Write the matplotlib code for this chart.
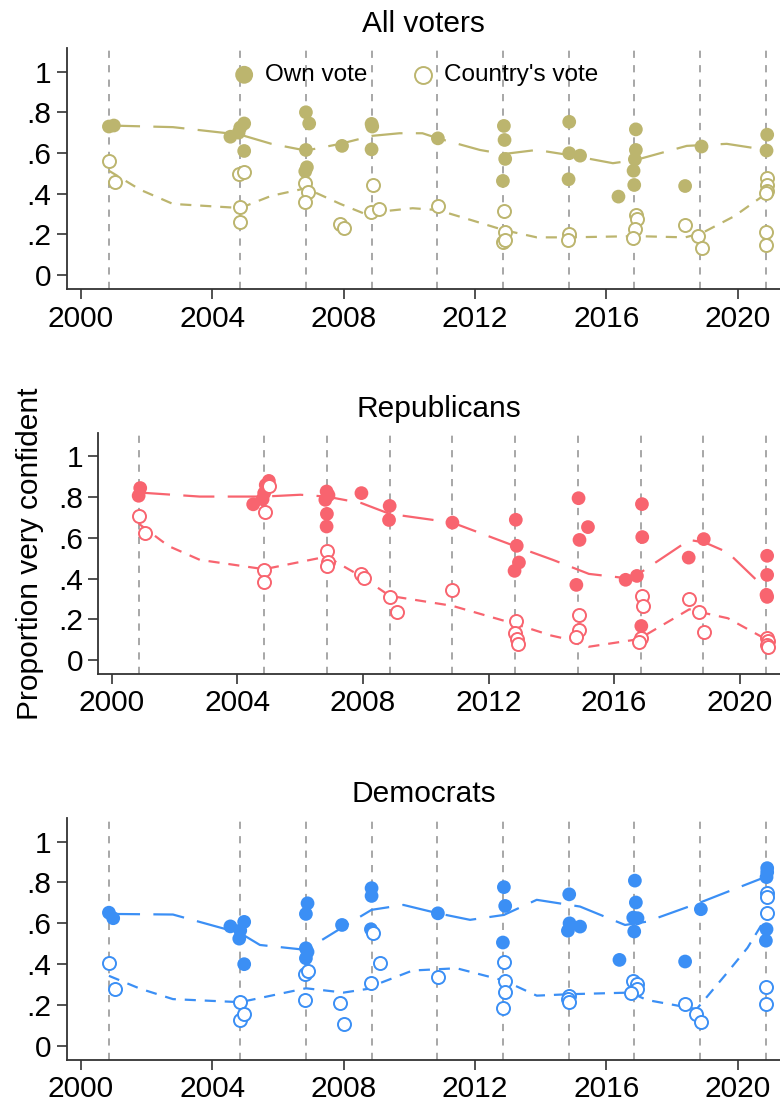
import numpy as np
import matplotlib.pyplot as plt

plt.rcParams.update({"font.family": ["Liberation Sans", "DejaVu Sans"], "font.size": 21.5})

elections = [2000.85, 2004.85, 2006.85, 2008.85, 2010.85, 2012.85,
             2014.85, 2016.85, 2018.85, 2020.85]

# ---- All voters ----
all_own_x = [2000.85, 2001.0, 2004.55, 2004.8, 2004.85, 2004.97, 2004.97,
             2006.85, 2006.95, 2006.85, 2006.88, 2006.83, 2007.95,
             2008.85, 2008.87, 2008.85, 2010.87, 2012.88, 2012.9, 2012.92, 2012.85,
             2014.87, 2014.87, 2014.85, 2015.2, 2016.9, 2016.9, 2016.87, 2016.83,
             2016.85, 2016.37, 2018.4, 2018.9, 2020.9, 2020.88]
all_own_y = [0.73, 0.735, 0.68, 0.70, 0.725, 0.745, 0.61,
             0.80, 0.745, 0.615, 0.53, 0.51, 0.635,
             0.743, 0.73, 0.618, 0.672, 0.733, 0.664, 0.571, 0.463,
             0.753, 0.599, 0.471, 0.587, 0.716, 0.615, 0.569, 0.513,
             0.443, 0.386, 0.438, 0.632, 0.69, 0.612]
all_cty_x = [2000.84, 2001.04, 2004.8, 2004.95, 2004.85, 2004.85,
             2006.83, 2006.9, 2006.83, 2007.9, 2008.0, 2008.88, 2008.83, 2009.09,
             2010.87, 2012.88, 2012.9, 2012.85, 2012.92, 2014.87, 2014.83,
             2016.9, 2016.92, 2016.88, 2016.82, 2018.4, 2018.8, 2018.9,
             2020.9, 2020.88, 2020.9, 2020.87, 2020.86, 2020.86]
all_cty_y = [0.563, 0.46, 0.495, 0.505, 0.333, 0.263,
             0.455, 0.407, 0.361, 0.252, 0.231, 0.443, 0.312, 0.324,
             0.34, 0.316, 0.211, 0.162, 0.173, 0.201, 0.173,
             0.296, 0.275, 0.226, 0.182, 0.247, 0.193, 0.133,
             0.476, 0.443, 0.415, 0.402, 0.214, 0.149]
all_own_fit_x = [2000.85, 2002.8, 2004.85, 2005.8, 2006.85, 2007.9, 2008.85, 2009.7,
                 2010.4, 2010.87, 2012.15, 2012.87, 2013.88, 2014.87, 2016.2,
                 2016.9, 2018.45, 2019.67, 2020.88]
all_own_fit_y = [0.735, 0.727, 0.69, 0.645, 0.612, 0.645, 0.684, 0.697,
                 0.697, 0.672, 0.615, 0.595, 0.615, 0.59, 0.55,
                 0.566, 0.635, 0.645, 0.615]
all_cty_fit_x = [2000.84, 2001.8, 2002.8, 2004.85, 2005.8, 2006.85, 2007.9, 2008.85,
                 2009.1, 2010.1, 2010.87, 2011.9, 2012.87, 2013.88, 2014.87,
                 2016.9, 2018.4, 2018.9, 2019.9, 2020.88]
all_cty_fit_y = [0.514, 0.42, 0.35, 0.33, 0.39, 0.427, 0.35, 0.288,
                 0.312, 0.329, 0.32, 0.27, 0.222, 0.186, 0.186,
                 0.192, 0.186, 0.206, 0.29, 0.402]

# ---- Republicans ----
rep_own_x = [2000.85, 2000.9, 2004.5, 2004.8, 2004.85, 2004.9, 2005.0,
             2006.84, 2006.9, 2006.8, 2006.85, 2006.84, 2007.95,
             2008.85, 2008.83, 2010.85, 2012.87, 2012.9, 2012.97, 2012.83,
             2014.87, 2015.17, 2014.9, 2014.8, 2016.37, 2016.73, 2016.89,
             2016.9, 2016.87, 2018.38, 2018.86, 2020.88, 2020.88, 2020.86, 2020.88]
rep_own_y = [0.807, 0.845, 0.765, 0.79, 0.82, 0.86, 0.88,
             0.828, 0.81, 0.787, 0.718, 0.656, 0.82,
             0.757, 0.688, 0.675, 0.689, 0.561, 0.479, 0.438,
             0.795, 0.653, 0.59, 0.369, 0.394, 0.413, 0.766,
             0.604, 0.167, 0.503, 0.594, 0.512, 0.418, 0.32, 0.31]
rep_cty_x = [2000.86, 2001.05, 2004.85, 2004.85, 2005.0, 2004.88,
             2006.85, 2006.9, 2006.85, 2007.95, 2008.02, 2008.85, 2009.07,
             2010.85, 2012.87, 2012.85, 2012.9, 2012.93, 2014.87, 2014.88, 2014.8,
             2016.9, 2016.92, 2016.85, 2016.8, 2018.38, 2018.7, 2018.86,
             2020.86, 2020.9, 2020.86, 2020.9]
rep_cty_y = [0.708, 0.623, 0.443, 0.385, 0.856, 0.725,
             0.536, 0.48, 0.462, 0.421, 0.405, 0.311, 0.236,
             0.344, 0.192, 0.134, 0.102, 0.077, 0.221, 0.148, 0.115,
             0.315, 0.266, 0.11, 0.09, 0.298, 0.234, 0.139,
             0.107, 0.095, 0.074, 0.062]
rep_own_fit_x = [2000.86, 2002.8, 2004.85, 2006.0, 2006.84, 2007.95, 2008.85,
                 2010.85, 2012.87, 2014.05, 2015.2, 2016.39, 2016.89,
                 2018.4, 2018.9, 2019.63, 2020.89]
rep_own_fit_y = [0.823, 0.803, 0.803, 0.812, 0.803, 0.771, 0.718,
                 0.675, 0.558, 0.492, 0.423, 0.402, 0.434,
                 0.59, 0.577, 0.528, 0.341]
rep_cty_fit_x = [2000.86, 2001.8, 2002.8, 2004.85, 2006.84, 2007.95, 2008.85,
                 2010.85, 2012.87, 2014.0, 2014.87, 2015.2, 2016.78,
                 2018.4, 2018.9, 2019.63, 2020.89]
rep_cty_fit_y = [0.669, 0.56, 0.492, 0.446, 0.508, 0.41, 0.315,
                 0.266, 0.176, 0.12, 0.09, 0.065, 0.102,
                 0.249, 0.23, 0.205, 0.098]

# ---- Democrats ----
dem_own_x = [2000.85, 2000.98, 2004.55, 2004.85, 2004.82, 2004.97, 2004.97,
             2006.9, 2006.85, 2006.85, 2006.9, 2006.85, 2007.95,
             2008.85, 2008.85, 2008.83, 2010.87, 2012.88, 2012.92, 2012.85,
             2014.87, 2014.88, 2015.2, 2014.83, 2016.4, 2016.87, 2016.9,
             2016.82, 2016.95, 2016.85, 2018.4, 2018.88, 2020.9, 2020.9,
             2020.88, 2020.88, 2020.86]
dem_own_y = [0.652, 0.625, 0.585, 0.565, 0.525, 0.607, 0.40,
             0.698, 0.646, 0.478, 0.46, 0.429, 0.592,
             0.772, 0.734, 0.571, 0.649, 0.777, 0.685, 0.506,
             0.742, 0.60, 0.584, 0.564, 0.421, 0.809, 0.702,
             0.628, 0.625, 0.56, 0.413, 0.669, 0.87, 0.85,
             0.826, 0.571, 0.515]
dem_cty_x = [2000.85, 2001.04, 2004.85, 2004.83, 2004.97,
             2006.83, 2006.9, 2006.83, 2007.9, 2008.0, 2008.88, 2008.83, 2009.1,
             2010.87, 2012.88, 2012.9, 2012.92, 2012.85, 2014.87, 2014.82, 2014.87,
             2016.82, 2016.92, 2016.93, 2016.75, 2018.4, 2018.73, 2018.87,
             2020.9, 2020.9, 2020.9, 2020.86, 2020.86]
dem_cty_y = [0.405, 0.279, 0.217, 0.127, 0.155,
             0.352, 0.365, 0.225, 0.209, 0.108, 0.552, 0.31, 0.405,
             0.336, 0.41, 0.32, 0.266, 0.187, 0.246, 0.23, 0.214,
             0.32, 0.305, 0.279, 0.261, 0.206, 0.157, 0.119,
             0.747, 0.731, 0.649, 0.287, 0.206]
dem_own_fit_x = [2000.85, 2002.8, 2004.85, 2005.45, 2006.85, 2008.0, 2008.85,
                 2009.82, 2010.87, 2011.85, 2012.88, 2013.88, 2015.2, 2016.57,
                 2017.23, 2018.86, 2020.88]
dem_own_fit_y = [0.646, 0.643, 0.552, 0.494, 0.47, 0.584, 0.666,
                 0.69, 0.649, 0.617, 0.641, 0.715, 0.682, 0.592,
                 0.608, 0.702, 0.829]
dem_cty_fit_x = [2000.85, 2001.8, 2002.8, 2004.85, 2006.85, 2008.0, 2008.85,
                 2009.1, 2010.1, 2011.44, 2012.88, 2013.88, 2014.87, 2016.74,
                 2017.23, 2018.75, 2019.67, 2020.3, 2020.88]
dem_cty_fit_y = [0.343, 0.28, 0.229, 0.214, 0.282, 0.261, 0.282,
                 0.307, 0.369, 0.38, 0.32, 0.246, 0.253, 0.261,
                 0.225, 0.18, 0.356, 0.48, 0.633]

panels = [
    ("All voters", "#bcb56e", all_own_x, all_own_y, all_cty_x, all_cty_y,
     all_own_fit_x, all_own_fit_y, all_cty_fit_x, all_cty_fit_y,
     [66.7 / 780, 1 - 289.3 / 1108, 1 - 66.7 / 780, 241 / 1108]),
    ("Republicans", "#f8646f", rep_own_x, rep_own_y, rep_cty_x, rep_cty_y,
     rep_own_fit_x, rep_own_fit_y, rep_cty_fit_x, rep_cty_fit_y,
     [98.3 / 780, 1 - 674 / 1108, 1 - 98.3 / 780, 240.7 / 1108]),
    ("Democrats", "#3b8ff5", dem_own_x, dem_own_y, dem_cty_x, dem_cty_y,
     dem_own_fit_x, dem_own_fit_y, dem_cty_fit_x, dem_cty_fit_y,
     [66.7 / 780, 1 - 1060 / 1108, 1 - 66.7 / 780, 241.7 / 1108]),
]

fig = plt.figure(figsize=(7.8, 11.08), dpi=100)

for i, (title, col, ox, oy, cx, cy, ofx, ofy, cfx, cfy, rect) in enumerate(panels):
    ax = fig.add_axes(rect)
    for e in elections:
        ax.axvline(e, color="#a0a0a0", lw=1.3, dashes=(4, 4), zorder=1)
    ax.plot(ofx, ofy, color=col, lw=1.6, dashes=(14, 6), zorder=2)
    ax.plot(cfx, cfy, color=col, lw=1.6, dashes=(5, 4), zorder=2)
    h1 = ax.scatter(ox, oy, s=98, color=col, edgecolors="none", zorder=3, label="Own vote")
    h2 = ax.scatter(cx, cy, s=88, facecolors="white", edgecolors=col, linewidths=1.4,
                    zorder=4, label="Country's vote")
    ax.set_xlim(1999.564, 2021.29)
    ax.set_ylim(-0.069, 1.114)
    ax.set_xticks([2000, 2004, 2008, 2012, 2016, 2020])
    ax.set_yticks([0, 0.2, 0.4, 0.6, 0.8, 1])
    ax.set_yticklabels(["0", ".2", ".4", ".6", ".8", "1"])
    for s in ["top", "right"]:
        ax.spines[s].set_visible(False)
    for s in ["left", "bottom"]:
        ax.spines[s].set_color("#333333")
        ax.spines[s].set_linewidth(1.3)
    ax.tick_params(direction="out", length=7, width=1.2, color="#333333", pad=4)
    ax.set_title(title, fontsize=21.5, pad=12)
    if i == 0:
        ax.legend(handles=[h1, h2], loc="upper center", bbox_to_anchor=(0.49, 1.025),
                  ncol=2, frameon=False, fontsize=17.5, markerscale=1.3,
                  handlelength=0.8, handletextpad=0.45, columnspacing=1.9)
    if i == 1:
        ax.set_ylabel("Proportion very confident", fontsize=21.5, labelpad=10)

fig.savefig("out.png", dpi=100)
